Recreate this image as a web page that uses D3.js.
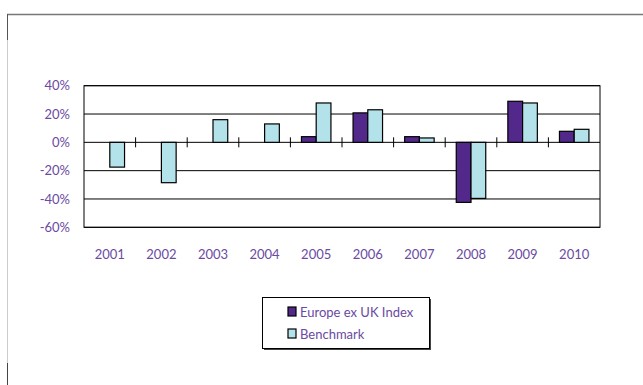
<!DOCTYPE html>
<html><head><meta charset="utf-8">
<script src="https://cdn.jsdelivr.net/npm/d3@7"></script>
<style>
html,body{margin:0;padding:0;background:#fff;}
svg text{font-family:Lato,"Open Sans",sans-serif;fill:#6a4aa2;}
</style></head>
<body>
<svg id="c" width="643" height="385"></svg>
<script>
const years = ["2001","2002","2003","2004","2005","2006","2007","2008","2009","2010"];
const indexValues = [null,null,null,null,4.0,20.8,4.0,-42.4,29.0,7.8];
const benchmarkValues = [-17.5,-28.5,16.0,13.0,27.8,23.0,3.1,-39.6,27.8,9.2];
const yTicks = [40,20,0,-20,-40,-60];
const seriesNames = ["Europe ex UK Index","Benchmark"];
const seriesColors = ["#52288a","#b3e2ea"];

const svg = d3.select("#c");
// outer frame
svg.append("line").attr("x1",7).attr("x2",643).attr("y1",14.5).attr("y2",14.5).attr("stroke","#777").attr("stroke-width",1.5);
svg.append("line").attr("x1",7.5).attr("x2",7.5).attr("y1",14).attr("y2",40).attr("stroke","#555").attr("stroke-width",1);
svg.append("line").attr("x1",7.5).attr("x2",7.5).attr("y1",40).attr("y2",363).attr("stroke","#ccc").attr("stroke-width",1);
svg.append("line").attr("x1",7.5).attr("x2",7.5).attr("y1",363).attr("y2",385).attr("stroke","#444").attr("stroke-width",1);

const L=84, R=600, T=85.7, B=227.3;
const x = d3.scaleBand().domain(years).range([L,R]).paddingInner(0.3).paddingOuter(0.15);
// Excel gap width 150%: band step split so that 2 bars + gap = step
const step = (R-L)/years.length;
const barW = step/3.5;
const y = d3.scaleLinear().domain([-60,40]).range([B,T]);

const g = svg.append("g");
// gridlines
g.selectAll(".grid").data(yTicks).join("line")
  .attr("x1",L).attr("x2",R).attr("y1",d=>y(d)).attr("y2",d=>y(d))
  .attr("stroke","#000").attr("stroke-width",1);
// plot border (left/right)
g.append("rect").attr("x",L).attr("y",T).attr("width",R-L).attr("height",B-T)
  .attr("fill","none").attr("stroke","#000").attr("stroke-width",1);

const yAxis = d3.axisLeft(y).tickValues(yTicks).tickFormat(d=>d+"%").tickSize(0).tickPadding(14);
const ya = svg.append("g").attr("transform",`translate(${L},0)`).call(yAxis);
ya.select(".domain").remove();
ya.selectAll("text").attr("font-size",13).style("fill","#6a4aa2").style("font-family","Lato, sans-serif");

// category center helper
const cx = d => L + step*(years.indexOf(d)+0.5);

// bars
const bars = [];
years.forEach((yr,i)=>{
  if(indexValues[i]!==null) bars.push({yr, v:indexValues[i], s:0});
  if(benchmarkValues[i]!==null) bars.push({yr, v:benchmarkValues[i], s:1});
});
g.selectAll(".bar").data(bars).join("rect")
  .attr("x",d=>cx(d.yr) + (d.s===0 ? -barW : 0))
  .attr("width",barW)
  .attr("y",d=>Math.min(y(d.v),y(0)))
  .attr("height",d=>Math.abs(y(d.v)-y(0)))
  .attr("fill",d=>seriesColors[d.s])
  .attr("stroke","#000").attr("stroke-width",1.2);

// zero axis ticks (between categories)
g.selectAll(".tk").data(years.slice(1)).join("line")
  .attr("x1",(d,i)=>L+step*(i+1)).attr("x2",(d,i)=>L+step*(i+1))
  .attr("y1",y(0)-5).attr("y2",y(0)+5).attr("stroke","#000");

// x labels
svg.selectAll(".xl").data(years).join("text")
  .attr("x",d=>cx(d)).attr("y",259).attr("text-anchor","middle")
  .attr("font-size",13).text(d=>d);

// legend
const lg = svg.append("g");
lg.append("rect").attr("x",264).attr("y",299).attr("width",167).attr("height",51).attr("fill","#444");
lg.append("rect").attr("x",262.5).attr("y",297.5).attr("width",167).attr("height",51).attr("fill","#fff").attr("stroke","#000");
seriesNames.forEach((n,i)=>{
  const yy = 312 + i*22;
  lg.append("rect").attr("x",288).attr("y",yy-5).attr("width",8).attr("height",9)
    .attr("fill",seriesColors[i]).attr("stroke","#000").attr("stroke-width",1.2);
  lg.append("text").attr("x",300).attr("y",yy+4.5).attr("font-size",13).text(n);
});
</script>
</body></html>
